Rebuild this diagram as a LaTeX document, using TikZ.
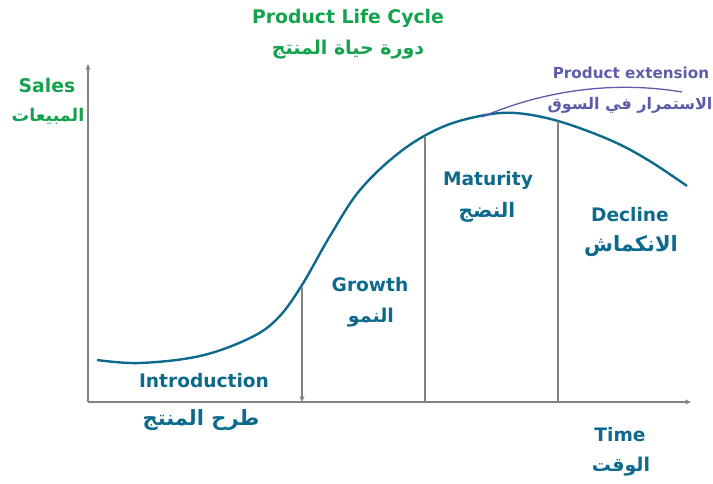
\documentclass[tikz,border=0pt]{standalone}
\usepackage{fontspec}
\setmainfont{DejaVu Sans}
\newfontfamily\arabicfont[Script=Arabic]{DejaVu Sans}
\TeXXeTstate=1
\usetikzlibrary{arrows.meta}

\definecolor{plcgreen}{RGB}{20,162,78}
\definecolor{plcteal}{RGB}{14,106,140}
\definecolor{plcpurple}{RGB}{92,92,170}
\definecolor{plcgray}{RGB}{130,130,130}

\newcommand{\ar}[2][19]{{\arabicfont\bfseries\fontsize{#1}{22}\selectfont\beginR #2\endR}}

\begin{document}
\begin{tikzpicture}[
    x=1pt, y=-1pt,
    title/.style={font=\bfseries\fontsize{18.8}{21}\selectfont, text=plcgreen, inner sep=0pt},
    stage/.style={font=\bfseries\fontsize{18.6}{21}\selectfont, text=plcteal, inner sep=0pt},
    extlabel/.style={font=\bfseries\fontsize{15.2}{18}\selectfont, text=plcpurple, inner sep=0pt},
    axis/.style={plcgray, line width=1.2pt, -{Stealth[length=6pt,width=5pt]}},
    divider/.style={plcgray, line width=1.2pt},
    lifecurve/.style={plcteal, line width=2.4pt},
    extcurve/.style={plcpurple, line width=1.3pt}
]
    \useasboundingbox (0,0) rectangle (713,484);

    % axes
    \coordinate (origin) at (88,402);
    \coordinate (ytop) at (88,64);
    \coordinate (xend) at (691,402);
    \draw[axis] (origin) -- (ytop);
    \draw[axis] (origin) -- (xend);

    % life cycle curve
    \draw[lifecurve] plot[smooth, tension=0.6] coordinates {
        (97,360) (140,363) (200,356) (250,338) (278,318) (302,285)
        (330,236) (360,190) (400,152) (440,128) (480,116) (515,113)
        (558,121) (610,140) (648,160) (687,186)};

    % stage dividers
    \coordinate (growthtop) at (302,287);
    \coordinate (growthbot) at (302,402);
    \coordinate (maturetop) at (425,137);
    \coordinate (maturebot) at (425,402);
    \coordinate (declinetop) at (558,121);
    \coordinate (declinebot) at (558,402);
    \draw[divider, -{Stealth[length=6pt,width=5pt]}] (growthtop) -- (growthbot);
    \draw[divider] (maturetop) -- (maturebot);
    \draw[divider] (declinetop) -- (declinebot);

    % extension
    \coordinate (extstart) at (482,117);
    \coordinate (extend) at (682,92);
    \draw[extcurve] (extstart) .. controls (540,92) and (610,80) .. (extend);

    % labels
    \node[title] (titleen) at (348,18) {Product Life Cycle};
    \node[title] (titlear) at (348,50) {\ar{دورة حياة المنتج}};
    \node[title] (salesen) at (47,85) {Sales};
    \node[title] (salesar) at (48,116) {\ar[17.5]{المبيعات}};
    \node[extlabel] (exten) at (631,73) {Product extension};
    \node[extlabel] (extar) at (630,105) {\ar[16]{الاستمرار في السوق}};
    \node[stage] (introen) at (204,381) {Introduction};
    \node[stage] (introar) at (201,420) {\ar[21]{طرح المنتج}};
    \node[stage] (growen) at (370,285) {Growth};
    \node[stage] (growar) at (371,318) {\ar{النمو}};
    \node[stage] (maten) at (488,180) {Maturity};
    \node[stage] (matar) at (487,212) {\ar[20]{النضج}};
    \node[stage] (decen) at (630,215) {Decline};
    \node[stage] (decar) at (631,246) {\ar[21]{الانكماش}};
    \node[stage] (timeen) at (620,435) {Time};
    \node[stage] (timear) at (621,467) {\ar{الوقت}};
\end{tikzpicture}
\end{document}
